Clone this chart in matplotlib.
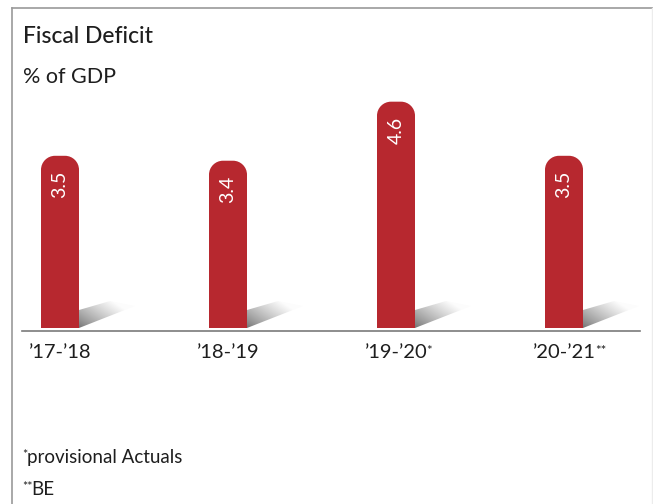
import numpy as np
import matplotlib
matplotlib.use('Agg')
from matplotlib import pyplot as plt
from matplotlib.path import Path
from matplotlib.patches import PathPatch, Polygon
from matplotlib.lines import Line2D

plt.rcParams['font.family'] = ['Lato', 'DejaVu Sans']

# data
years = ['\u201917-\u201918', '\u201918-\u201919', '\u201919-\u201920', '\u201920-\u201921']
marks = ['', '', '*', '**']
deficit = [3.5, 3.4, 4.6, 3.5]

W, H = 653, 504
RED = '#b7282f'
TXT = '#1e1e1e'

fig = plt.figure(figsize=(W / 100, H / 100), dpi=100)
fig.patch.set_facecolor('white')


def fx(px):
    return px / W


def fy(py):
    return 1 - py / H


# one axes over the whole figure; 168 px between bars, ~49 px per unit
step_px, unit_px = 168.0, 49.2
x0_px, base_px = 60.0, 328.0
ax = fig.add_axes([0, 0, 1, 1])
ax.set_axis_off()
xlim = (-x0_px / step_px, (W - x0_px) / step_px)
ylim = (-(H - base_px) / unit_px, base_px / unit_px)

bw = 38 / step_px
rx, ry = 14 / step_px, 14 / unit_px
k = 0.5523

for i, v in enumerate(deficit):
    l, r = i - bw / 2, i + bw / 2
    verts = [(l, 0), (l, v - ry),
             (l, v - ry + k * ry), (l + rx - k * rx, v), (l + rx, v),
             (r - rx, v),
             (r - rx + k * rx, v), (r, v - ry + k * ry), (r, v - ry),
             (r, 0), (l, 0)]
    codes = [Path.MOVETO, Path.LINETO,
             Path.CURVE4, Path.CURVE4, Path.CURVE4,
             Path.LINETO,
             Path.CURVE4, Path.CURVE4, Path.CURVE4,
             Path.LINETO, Path.CLOSEPOLY]
    ax.add_patch(PathPatch(Path(verts, codes), facecolor=RED, edgecolor='none', zorder=3))

    # floor shadow to the right of the bar
    sh = [(0, 0), (0, 18), (31, 27), (56, 22)]
    poly = Polygon([(r + dx / step_px, dy / unit_px) for dx, dy in sh],
                   closed=True, facecolor='none', edgecolor='none')
    ax.add_patch(poly)
    gx = np.linspace(0, 56, 120)
    gy = np.linspace(0, 27, 60)
    GX, GY = np.meshgrid(gx, gy)
    t = np.clip(0.75 * GX / 56 + 0.55 * GY / 27, 0, 1) ** 0.8
    g = 0.44 + (0.99 - 0.44) * t
    img = np.dstack([g, g, g])
    im = ax.imshow(img, origin='lower', aspect='auto', interpolation='bilinear',
                   extent=[r, r + 56 / step_px, 0, 27 / unit_px], zorder=2)
    im.set_clip_path(poly)

    ax.text(i, v - 15 / unit_px, f'{v:.1f}', rotation=90, ha='center', va='top',
            color='white', fontsize=14, zorder=4)

    lab = ax.text(i, -16 / unit_px, years[i], ha='center', va='top',
                  color=TXT, fontsize=14.5)
    if marks[i]:
        ax.annotate(marks[i], xy=(1, 1), xycoords=lab, xytext=(-0.5, -1),
                    textcoords='offset points', ha='left', va='top',
                    fontsize=9.5, color=TXT)

ax.set_xlim(*xlim)
ax.set_ylim(*ylim)

# baseline
fig.add_artist(Line2D([fx(22), fx(640)], [fy(331), fy(331)], color='#7a7a7a', lw=1.2))

# panel border
fig.add_artist(Line2D([fx(12.5), fx(653)], [fy(7.5), fy(7.5)], color='#9a9a9a', lw=1.2))
fig.add_artist(Line2D([fx(12.5), fx(12.5)], [fy(7.5), fy(504)], color='#9a9a9a', lw=1.2))
fig.add_artist(Line2D([fx(652), fx(652)], [fy(7.5), fy(504)], color='#ececec', lw=1.0))

# titles
fig.text(fx(23), fy(43), 'Fiscal Deficit', ha='left', va='baseline',
         fontsize=16.5, fontweight='medium', color=TXT)
fig.text(fx(23), fy(83), '% of GDP', ha='left', va='baseline',
         fontsize=15.5, color=TXT)

# footnotes
fig.text(fx(22), fy(459), '*', ha='left', va='baseline', fontsize=9, color=TXT)
fig.text(fx(27), fy(463), 'provisional Actuals', ha='left', va='baseline',
         fontsize=13.5, color=TXT)
fig.text(fx(22), fy(491), '**', ha='left', va='baseline', fontsize=9, color=TXT)
fig.text(fx(31), fy(495), 'BE', ha='left', va='baseline',
         fontsize=13.5, color=TXT)

plt.savefig('out.png', dpi=100, facecolor='white')
